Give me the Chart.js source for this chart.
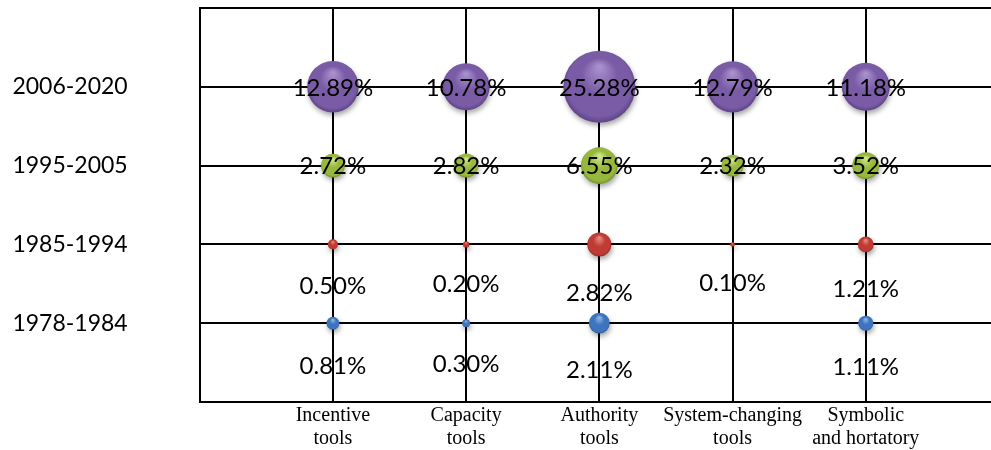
<!DOCTYPE html>
<html>
<head>
<meta charset="utf-8">
<script src="https://cdn.jsdelivr.net/npm/chart.js@4/dist/chart.umd.min.js"></script>
<style>
  html, body { margin: 0; padding: 0; background: #ffffff; }
  #wrap { width: 991px; height: 450px; position: relative; }
</style>
</head>
<body>
<div id="wrap"><canvas id="c" width="991" height="450"></canvas></div>
<script>
// Policy tool categories (x axis) and time periods (y axis)
const toolLabels = [
  ['Incentive', 'tools'],
  ['Capacity', 'tools'],
  ['Authority', 'tools'],
  ['System-changing', 'tools'],
  ['Symbolic', 'and hortatory']
];
const periods = ['1978-1984', '1985-1994', '1995-2005', '2006-2020'];

// Share of policies (%) per tool, one array per period
const share1978 = [0.81, 0.30, 2.11, null, 1.11];
const share1985 = [0.50, 0.20, 2.82, 0.10, 1.21];
const share1995 = [2.72, 2.82, 6.55, 2.32, 3.52];
const share2006 = [12.89, 10.78, 25.28, 12.79, 11.18];

// Bubble look per period: base, highlight, edge colours; label placement
const seriesStyle = [
  { base: '#3d74bd', light: '#8fb6e6', dark: '#23508c', below: true },
  { base: '#c03b33', light: '#e88a82', dark: '#8a2520', below: true },
  { base: '#97b83c', light: '#d0e58e', dark: '#6a8a22', below: false },
  { base: '#7a5ba6', light: '#a88fcc', dark: '#573d80', below: false }
];

const RADIUS_K = 7.16;           // bubble area proportional to share
const radiusOf = v => RADIUS_K * Math.sqrt(v);

function buildPoints(values, row) {
  const pts = [];
  values.forEach((v, i) => {
    if (v !== null) pts.push({ x: i + 1, y: row + 1, v: v });
  });
  return pts;
}

const seriesValues = [share1978, share1985, share1995, share2006];

const datasets = seriesValues.map((vals, row) => {
  const st = seriesStyle[row];
  return {
    label: periods[row],
    data: buildPoints(vals, row),
    radius: ctx => (ctx.raw ? radiusOf(ctx.raw.v) : 0),
    hoverRadius: 0,
    borderWidth: 0,
    borderColor: 'rgba(0,0,0,0)',
    belowLabel: st.below,
    backgroundColor: ctx => {
      const chart = ctx.chart;
      if (!chart.chartArea || !ctx.raw) return st.base;
      const x = chart.scales.x.getPixelForValue(ctx.raw.x);
      const y = chart.scales.y.getPixelForValue(ctx.raw.y);
      const r = radiusOf(ctx.raw.v);
      const g = chart.ctx.createRadialGradient(x, y - r * 0.55, r * 0.05, x, y, r * 1.05);
      g.addColorStop(0, st.light);
      g.addColorStop(0.45, st.base);
      g.addColorStop(0.85, st.base);
      g.addColorStop(1, st.dark);
      return g;
    }
  };
});

// Soft drop shadow under the bubbles
const bubbleShadow = {
  id: 'bubbleShadow',
  beforeDatasetsDraw(chart) {
    const c = chart.ctx;
    c.save();
    c.shadowColor = 'rgba(0,0,0,0.35)';
    c.shadowBlur = 5;
    c.shadowOffsetX = 1;
    c.shadowOffsetY = 3;
  },
  afterDatasetsDraw(chart) {
    chart.ctx.restore();
  }
};

// Percentage labels: centred on the bubble, or below it for the early periods
const shareLabels = {
  id: 'shareLabels',
  afterDatasetsDraw(chart) {
    const c = chart.ctx;
    c.save();
    c.font = '24px Lato';
    c.fillStyle = '#000000';
    c.textAlign = 'center';
    c.textBaseline = 'middle';
    chart.data.datasets.forEach((ds, di) => {
      const meta = chart.getDatasetMeta(di);
      meta.data.forEach((el, i) => {
        const p = ds.data[i];
        const txt = p.v.toFixed(2) + '%';
        let y = el.y;
        if (ds.belowLabel) y = el.y + radiusOf(p.v) + 36;
        c.fillText(txt, el.x, y + 1);
      });
    });
    c.restore();
  }
};

// Keep the plot frame fixed: no extra padding from tick labels
function noScalePadding(s) {
  s.paddingTop = 0;
  s.paddingBottom = 0;
  s.paddingLeft = 0;
  s.paddingRight = 0;
}

new Chart(document.getElementById('c'), {
  type: 'bubble',
  data: { datasets: datasets },
  options: {
    responsive: false,
    animation: false,
    events: [],
    clip: false,
    layout: { autoPadding: false, padding: { top: 8, right: 0, left: 0, bottom: 0 } },
    plugins: {
      legend: { display: false },
      tooltip: { enabled: false }
    },
    scales: {
      x: {
        type: 'linear',
        min: 0,
        max: 5.94,
        afterBuildTicks: s => { s.ticks = [0, 1, 2, 3, 4, 5].map(v => ({ value: v })); },
        afterFit: s => { s.height = 48; noScalePadding(s); },
        grid: { color: '#000000', lineWidth: 2, drawTicks: false },
        border: { color: '#000000', width: 2 },
        ticks: {
          padding: 2,
          color: '#000000',
          maxRotation: 0,
          autoSkip: false,
          font: { family: 'Liberation Serif', size: 20, lineHeight: 1.15 },
          callback: v => (v >= 1 && v <= 5 ? toolLabels[v - 1] : '')
        }
      },
      y: {
        type: 'linear',
        min: 0,
        max: 5,
        afterBuildTicks: s => { s.ticks = [0, 1, 2, 3, 4, 5].map(v => ({ value: v })); },
        afterFit: s => { s.width = 199.7; noScalePadding(s); },
        grid: { color: '#000000', lineWidth: 2, drawTicks: false },
        border: { color: '#000000', width: 2 },
        ticks: {
          padding: 72,
          color: '#000000',
          font: { family: 'Lato', size: 23 },
          callback: v => (v >= 1 && v <= 4 ? periods[v - 1] : '')
        }
      }
    }
  },
  plugins: [bubbleShadow, shareLabels]
});
</script>
</body>
</html>
